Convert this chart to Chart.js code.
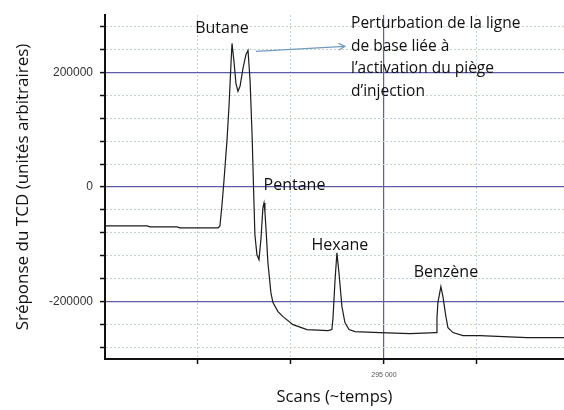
<!DOCTYPE html>
<html>
<head>
<meta charset="utf-8">
<script src="https://cdn.jsdelivr.net/npm/chart.js@4"></script>
<style>
    body { margin: 0; background: #fff; }
    #wrap { width: 564px; height: 410px; }
</style>
</head>
<body>
<div id="wrap"><canvas id="myChart" width="564" height="410"></canvas></div>
<script>
// TCD trace: scan number vs detector response
var scans = [280000, 282260, 282420, 283870, 284030, 286080, 286180, 286290, 286400, 286560,
    286670, 286770, 286830, 286940, 287040, 287150, 287260, 287420, 287580, 287690,
    287800, 287910, 287990, 288060, 288170, 288280, 288390, 288490, 288550,
    288600, 288660, 288760, 288920, 289030, 289300, 289570, 290110, 290860, 291990,
    292200, 292260, 292370, 292470, 292580, 292740, 292900, 293120, 293440, 294780,
    296400, 297800, 297850, 297900, 298060, 298170, 298330, 298440, 298710, 299250,
    300160, 302690, 304680];
var response = [-67800, -67800, -69600, -69600, -71300, -71300, -67800, -31300, 12200, 81700,
    142600, 212200, 250400, 217400, 180900, 166900, 175700, 207000, 231300, 238300,
    186000, 90000, -5200, -83500, -118300, -127000, -88700, -36500, -27800,
    -43500, -74800, -132200, -184300, -201700, -217400, -226100, -240000, -248700, -250400,
    -248700, -227800, -161700, -114800, -149600, -208700, -236500, -248700, -252200, -253900,
    -255700, -253900, -227800, -201700, -173900, -191300, -226100, -245200, -253900, -259100,
    -259100, -262600, -262600];

var yTicks = [-280000, -240000, -200000, -160000, -120000, -80000, -40000, 0,
    40000, 80000, 120000, 160000, 200000, 240000, 280000];
var xTicks = [285000, 290000, 295000, 300000];
var xLabelled = 295000;

// peak names, placed by scan / response (text baseline)
var peakNames = ["Butane", "Pentane", "Hexane", "Benzène"];
var peakScan = [286290, 290190, 292630, 298330];
var peakResp = [267800, -5200, -109600, -156500];

var noteLines = ["Perturbation de la ligne", "de base liée à", "l\u2019activation du piège", "d\u2019injection"];
var noteScan = 293230;
var noteResp = 276500;
var arrowFrom = [288120, 236500];
var arrowTo = [292900, 245200];

var majorColor = "#5c5ca8";
var minorColor = "#c4d6c4";

function isMajor(ctx) {
    return ctx.tick && ctx.tick.value % 200000 === 0;
}
function isMajorX(ctx) {
    return ctx.tick && ctx.tick.value === xLabelled;
}

var labelsPlugin = {
    id: "peakLabels",
    afterDatasetsDraw: function (chart) {
        var ctx = chart.ctx;
        var xs = chart.scales.x;
        var ys = chart.scales.y;
        ctx.save();
        ctx.fillStyle = "#111";
        ctx.textBaseline = "alphabetic";
        ctx.font = "16px 'Open Sans'";
        ctx.textAlign = "center";
        for (var i = 0; i < peakNames.length; i++) {
            ctx.fillText(peakNames[i], xs.getPixelForValue(peakScan[i]), ys.getPixelForValue(peakResp[i]));
        }
        ctx.font = "15.5px 'Open Sans'";
        ctx.textAlign = "left";
        var nx = xs.getPixelForValue(noteScan);
        var ny = ys.getPixelForValue(noteResp);
        for (var j = 0; j < noteLines.length; j++) {
            ctx.fillText(noteLines[j], nx, ny + j * 22.5);
        }
        // arrow towards the note
        var x1 = xs.getPixelForValue(arrowFrom[0]), y1 = ys.getPixelForValue(arrowFrom[1]);
        var x2 = xs.getPixelForValue(arrowTo[0]), y2 = ys.getPixelForValue(arrowTo[1]);
        var a = Math.atan2(y2 - y1, x2 - x1);
        ctx.strokeStyle = "#6f9cc0";
        ctx.lineWidth = 1.2;
        ctx.beginPath();
        ctx.moveTo(x1, y1);
        ctx.lineTo(x2, y2);
        ctx.moveTo(x2 - 7 * Math.cos(a - 0.5), y2 - 7 * Math.sin(a - 0.5));
        ctx.lineTo(x2, y2);
        ctx.lineTo(x2 - 7 * Math.cos(a + 0.5), y2 - 7 * Math.sin(a + 0.5));
        ctx.stroke();
        ctx.restore();
    }
};

var points = [];
for (var i = 0; i < scans.length; i++) {
    points.push({x: scans[i], y: response[i]});
}

var mychart = new Chart(document.getElementById("myChart"), {
    type: "line",
    data: {
        datasets: [{
                data: points,
                borderColor: "#1c1c1c",
                borderWidth: 1.2,
                pointRadius: 0,
                tension: 0,
                fill: false
            }]
    },
    options: {
        responsive: false,
        animation: false,
        devicePixelRatio: 1,
        layout: {padding: {top: 15, right: 0, bottom: 0, left: 0}},
        plugins: {
            legend: {display: false},
            tooltip: {enabled: false}
        },
        scales: {
            x: {
                type: "linear",
                min: 280000,
                max: 304680,
                afterBuildTicks: function (scale) {
                    scale.ticks = xTicks.map(function (v) { return {value: v}; });
                },
                afterFit: function (scale) {
                    scale.height = 51;
                },
                ticks: {
                    autoSkip: false,
                    maxRotation: 0,
                    padding: 7,
                    color: "#555",
                    font: {family: "'Liberation Sans'", size: 7},
                    callback: function (value) {
                        return value === xLabelled ? "295 000" : "";
                    }
                },
                grid: {
                    color: function (ctx) { return isMajorX(ctx) ? majorColor : minorColor; },
                    lineWidth: function (ctx) { return isMajorX(ctx) ? 1.2 : 1; },
                    tickColor: "#111",
                    tickLength: 5,
                    tickWidth: 1.5
                },
                border: {
                    color: "#111",
                    width: 2,
                    dash: function (ctx) { return ctx.tick && !isMajorX(ctx) ? [2, 2] : []; }
                },
                title: {
                    display: true,
                    text: "Scans (~temps)",
                    color: "#111",
                    font: {family: "'Open Sans'", size: 16.5},
                    padding: {top: 0, bottom: 3}
                }
            },
            y: {
                min: -300000,
                max: 300000,
                afterBuildTicks: function (scale) {
                    scale.ticks = yTicks.map(function (v) { return {value: v}; });
                },
                afterFit: function (scale) {
                    scale.width = 105;
                },
                ticks: {
                    padding: 7,
                    color: "#333",
                    font: {family: "'Liberation Sans'", size: 12},
                    callback: function (value) {
                        return value % 200000 === 0 ? String(value) : "";
                    }
                },
                grid: {
                    color: function (ctx) { return isMajor(ctx) ? majorColor : minorColor; },
                    lineWidth: function (ctx) { return isMajor(ctx) ? 1.2 : 1; },
                    tickColor: "#111",
                    tickLength: 5,
                    tickWidth: 1.5
                },
                border: {
                    color: "#111",
                    width: 2,
                    dash: function (ctx) { return ctx.tick && !isMajor(ctx) ? [2, 2] : []; }
                },
                title: {
                    display: true,
                    text: "Sréponse du TCD (unités arbitraires)",
                    color: "#111",
                    font: {family: "'Open Sans'", size: 17},
                    padding: {top: 13, bottom: 0}
                }
            }
        }
    },
    plugins: [labelsPlugin]
});
</script>
</body>
</html>
